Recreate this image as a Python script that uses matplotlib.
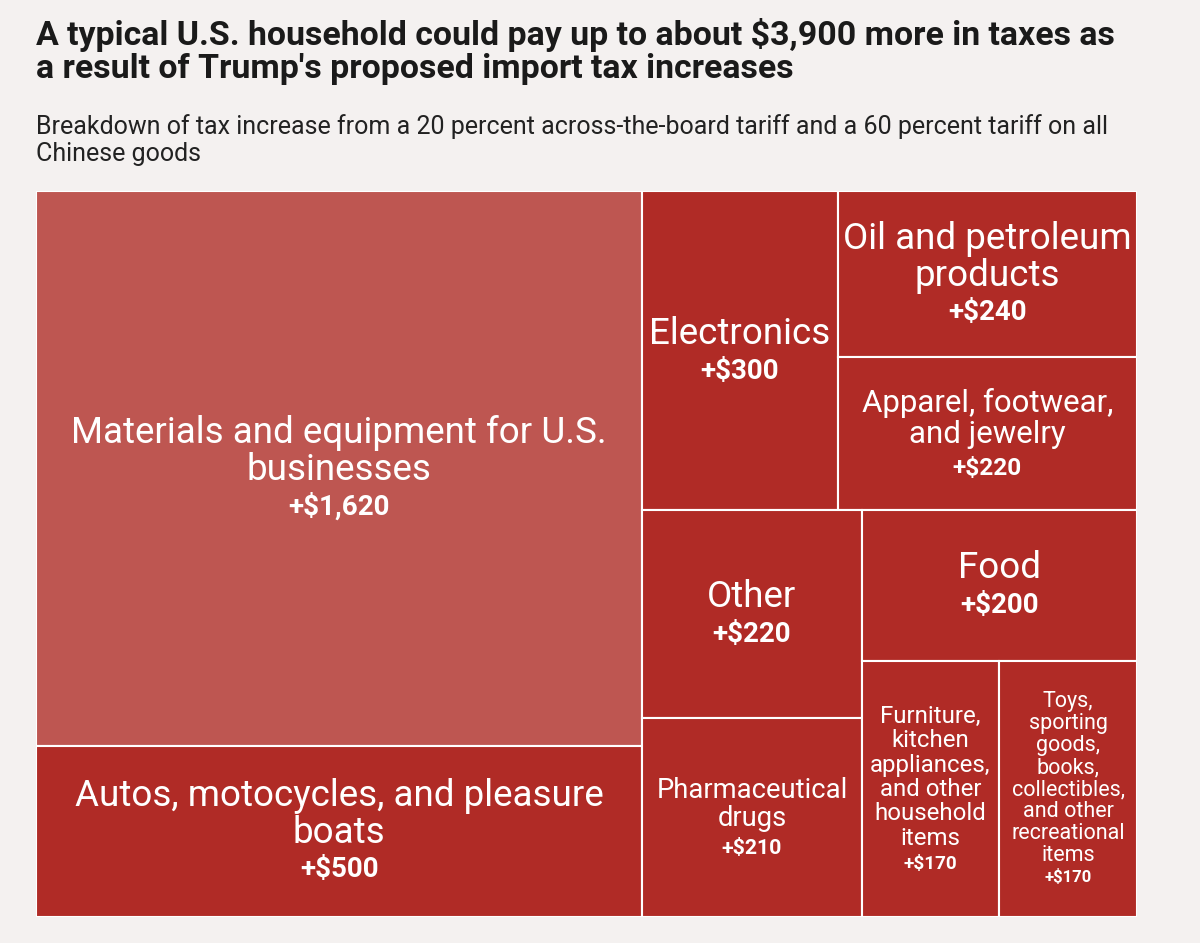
import matplotlib.pyplot as plt
from matplotlib.patches import Rectangle

plt.rcParams['font.family'] = ['Roboto', 'DejaVu Sans']

# ---- data ----
categories = [
    "Materials and equipment for U.S.\nbusinesses",
    "Autos, motocycles, and pleasure\nboats",
    "Electronics",
    "Oil and petroleum\nproducts",
    "Apparel, footwear,\nand jewelry",
    "Other",
    "Pharmaceutical\ndrugs",
    "Food",
    "Furniture,\nkitchen\nappliances,\nand other\nhousehold\nitems",
    "Toys,\nsporting\ngoods,\nbooks,\ncollectibles,\nand other\nrecreational\nitems",
]
values = [1620, 500, 300, 240, 220, 220, 210, 200, 170, 170]
value_labels = ["+$1,620", "+$500", "+$300", "+$240", "+$220",
                "+$220", "+$210", "+$200", "+$170", "+$170"]

# nesting of the treemap: 'h' splits left-right, 'v' splits top-bottom
tree = ('h', [('v', [0, 1]),
              ('v', [('h', [2, ('v', [3, 4])]),
                     ('h', [('v', [5, 6]), ('v', [7, ('h', [8, 9])])])])])

# ---- styles ----
name_sizes = [26.5, 26.5, 26.5, 26.5, 22.5, 26.5, 19.7, 26.5, 17.3, 15.5]
value_sizes = [20, 20, 20, 20, 17.6, 20, 15.3, 20, 13.6, 12]
line_sp = [1.03, 1.03, 1.03, 1.03, 1.08, 1.03, 1.08, 1.03, 1.08, 1.06]
colors = ['#BE5651'] + ['#B02B26'] * 9
bg = '#F4F1F0'


def total(node):
    if isinstance(node, int):
        return values[node]
    return sum(total(c) for c in node[1])


def layout(node, x, y, w, h, out):
    if isinstance(node, int):
        out[node] = (x, y, w, h)
        return
    direction, children = node
    s = total(node)
    pos = 0.0
    for c in children:
        frac = total(c) / s
        if direction == 'h':
            layout(c, x + pos * w, y, w * frac, h, out)
        else:
            layout(c, x, y + pos * h, w, h * frac, out)
        pos += frac


rects = {}
layout(tree, 0, 0, 1, 1, rects)

fig = plt.figure(figsize=(12, 9.43), dpi=100, facecolor=bg)
ax = fig.add_axes([36 / 1200, 26 / 943, 1101 / 1200, 726 / 943])
ax.set_xlim(0, 1)
ax.set_ylim(1, 0)
ax.axis('off')

px2pt = 72 / 100
for i in range(len(values)):
    x, y, w, h = rects[i]
    ax.add_patch(Rectangle((x, y), w, h, facecolor=colors[i],
                           edgecolor='white', linewidth=1.5))
    cx, cy = x + w / 2, y + h / 2
    nlines = categories[i].count('\n') + 1
    L = name_sizes[i] / px2pt * 0.93 * line_sp[i]
    V = value_sizes[i] / px2pt * 1.22
    ax.annotate(categories[i], (cx, cy), xytext=(0, V / 2 * px2pt),
                textcoords='offset points', ha='center', va='center',
                fontsize=name_sizes[i], color='white', linespacing=line_sp[i])
    ax.annotate(value_labels[i], (cx, cy),
                xytext=(0, -(nlines * L / 2 + 3) * px2pt),
                textcoords='offset points', ha='center', va='center',
                fontsize=value_sizes[i], color='white', fontweight='bold')

fig.text(36 / 1200, 1 - 18 / 943,
         "A typical U.S. household could pay up to about $3,900 more in taxes as\n"
         "a result of Trump's proposed import tax increases",
         ha='left', va='top', fontsize=24.4, fontweight='bold', color='#1a1a1a',
         linespacing=1.03)
fig.text(36 / 1200, 1 - 114 / 943,
         "Breakdown of tax increase from a 20 percent across-the-board tariff and a 60 percent tariff on all\n"
         "Chinese goods",
         ha='left', va='top', fontsize=18, color='#222222', linespacing=1.14)

fig.savefig('out.png', dpi=100, facecolor=bg)
